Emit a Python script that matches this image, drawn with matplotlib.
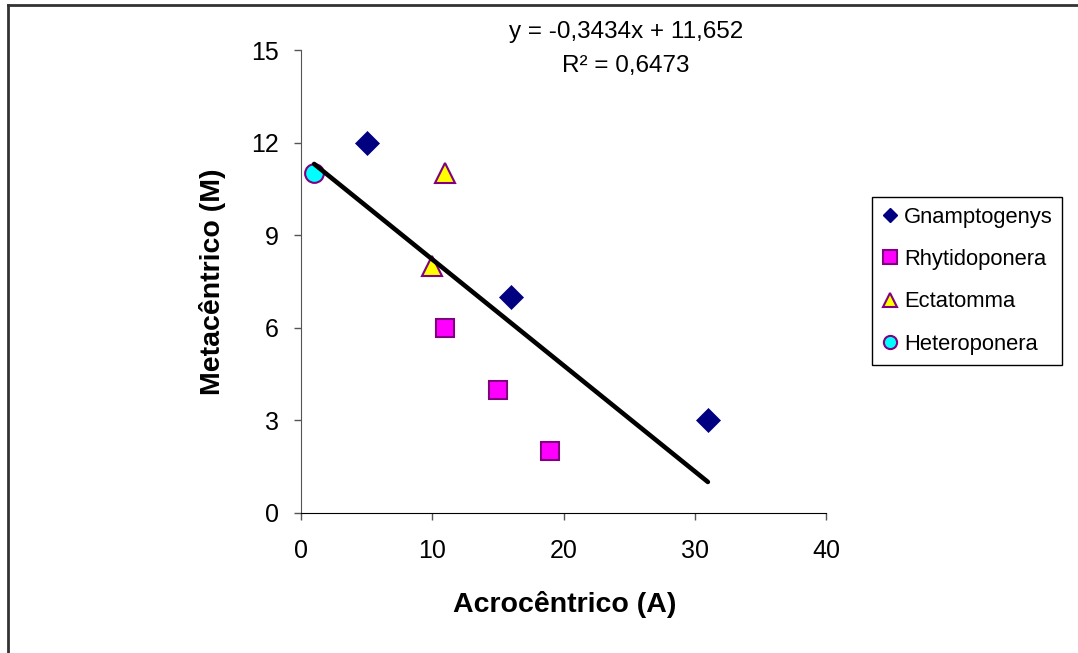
import numpy as np
import matplotlib
matplotlib.use("Agg")
import matplotlib.pyplot as plt
from matplotlib.lines import Line2D

plt.rcParams['font.family'] = ['Liberation Sans', 'DejaVu Sans']

series_names = ["Gnamptogenys", "Rhytidoponera", "Ectatomma", "Heteroponera"]
gnam_x = [5, 16, 31]
gnam_y = [12, 7, 3]
rhyt_x = [11, 15, 19]
rhyt_y = [6, 4, 2]
ecta_x = [11, 10]
ecta_y = [11, 8]
hete_x = [1]
hete_y = [11]

x_ticks = [0, 10, 20, 30, 40]
y_ticks = [0, 3, 6, 9, 12, 15]

W, H = 1078, 653
fig = plt.figure(figsize=(W / 100, H / 100), dpi=100)
ax = fig.add_axes([301 / W, 1 - 513 / H, (826 - 301) / W, (513 - 50) / H])

# outer frame (left and top only visible)
fig.add_artist(Line2D([8 / W, 8 / W], [0, 1 - 5 / H], transform=fig.transFigure, color='#333333', lw=2))
fig.add_artist(Line2D([8 / W, 1], [1 - 5 / H, 1 - 5 / H], transform=fig.transFigure, color='#333333', lw=2))

edge = '#800080'
ax.plot(gnam_x, gnam_y, linestyle='none', marker='D', ms=12, mfc='#000080', mec='#000080', mew=0.5,
        label=series_names[0], zorder=3)
ax.plot(rhyt_x, rhyt_y, linestyle='none', marker='s', ms=13.5, mfc='#FF00FF', mec=edge, mew=1.5,
        label=series_names[1], zorder=3)
ax.plot(ecta_x, ecta_y, linestyle='none', marker='^', ms=14, mfc='#FFFF00', mec=edge, mew=1.5,
        label=series_names[2], zorder=3)
ax.plot(hete_x, hete_y, linestyle='none', marker='o', ms=13.5, mfc='#00FFFF', mec=edge, mew=1.5,
        label=series_names[3], zorder=3)

all_x = np.array(gnam_x + rhyt_x + ecta_x + hete_x, dtype=float)
all_y = np.array(gnam_y + rhyt_y + ecta_y + hete_y, dtype=float)
slope, intercept = np.polyfit(all_x, all_y, 1)
r2 = np.corrcoef(all_x, all_y)[0, 1] ** 2
xl = np.array([all_x.min(), all_x.max()])
ax.plot(xl, slope * xl + intercept, color='black', lw=3.3, zorder=4, solid_capstyle='round')

ax.set_xlim(0, 40)
ax.set_ylim(0, 15)
ax.set_xticks(x_ticks)
ax.set_yticks(y_ticks)
ax.tick_params(axis='both', labelsize=18, length=5, direction='out', width=1, color='#555555')
ax.tick_params(axis='y', pad=11)
ax.tick_params(axis='x', pad=14)
ax.spines['top'].set_visible(False)
ax.spines['right'].set_visible(False)
ax.spines['left'].set_color('#555555')
ax.spines['bottom'].set_color('black')

fig.text(565 / W, 1 - 604 / H, "Acrocêntrico (A)", ha='center', va='center', fontsize=20.5, fontweight='bold')
fig.text(213 / W, 1 - 282 / H, "Metacêntrico (M)", ha='center', va='center', fontsize=20.5,
         fontweight='bold', rotation=90)

def fmt(v, n):
    return f"{v:.{n}f}".replace('.', ',')

fig.text(626 / W, 1 - 32 / H, f"y = {fmt(slope, 4)}x + {fmt(intercept, 3)}", ha='center', va='center', fontsize=17.5)
fig.text(626 / W, 1 - 66 / H, f"R² = {fmt(r2, 4)}", ha='center', va='center', fontsize=17.5)

handles, labels = ax.get_legend_handles_labels()
leg_handles = [
    Line2D([], [], linestyle='none', marker='D', ms=7.5, mfc='#000080', mec='#000080'),
    Line2D([], [], linestyle='none', marker='s', ms=9.5, mfc='#FF00FF', mec=edge, mew=1.5),
    Line2D([], [], linestyle='none', marker='^', ms=9.5, mfc='#FFFF00', mec=edge, mew=1.5),
    Line2D([], [], linestyle='none', marker='o', ms=9.5, mfc='#00FFFF', mec=edge, mew=1.5),
]
leg = fig.legend(leg_handles, labels, loc='upper left', bbox_to_anchor=(872 / W, 1 - 197 / H),
                 fontsize=15.8, frameon=True, fancybox=False, edgecolor='black', framealpha=1,
                 handlelength=0.7, handletextpad=0.3, borderpad=0.45, labelspacing=0.97, borderaxespad=0)
leg.get_frame().set_linewidth(1)

fig.savefig("out.png", dpi=100, facecolor='white')
